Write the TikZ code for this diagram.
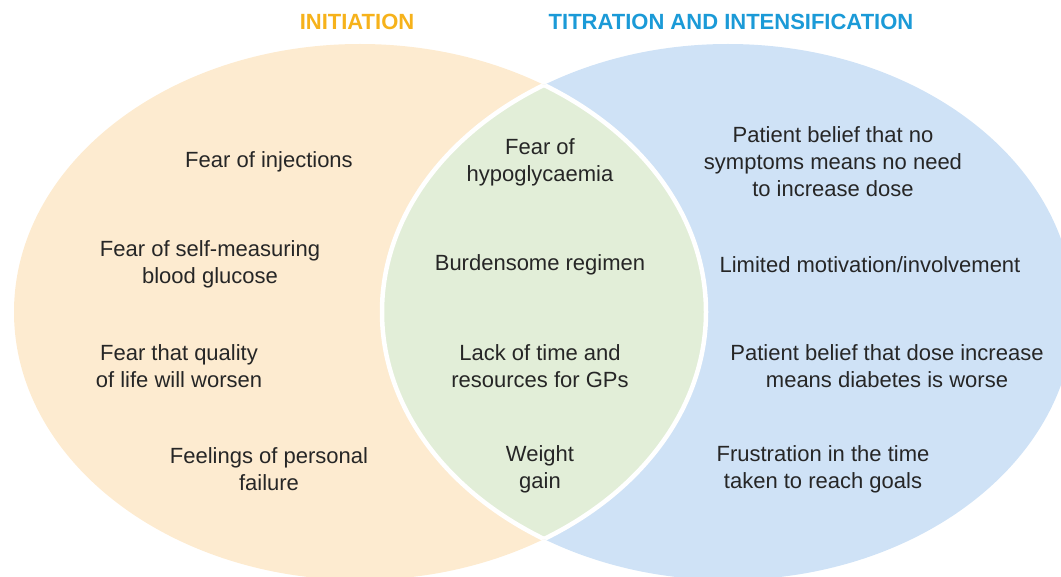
\documentclass[tikz,border=0pt]{standalone}
\usepackage{fontspec}
\setmainfont{Liberation Sans}
\definecolor{orfill}{HTML}{FDEBD0}
\definecolor{blfill}{HTML}{CFE2F6}
\definecolor{grfill}{HTML}{E2EED8}
\definecolor{ortitle}{HTML}{F6B21B}
\definecolor{bltitle}{HTML}{1B9AD7}
\definecolor{textgray}{HTML}{262626}
\begin{document}
\begin{tikzpicture}[x=1pt,y=-1pt,
  txt/.style={align=center, text=textgray, font=\fontsize{22}{27}\selectfont, inner sep=0pt},
  ttl/.style={font=\bfseries\fontsize{22}{26}\selectfont, inner sep=0pt},
  sep/.style={draw=white, line width=4.5pt}]
\useasboundingbox (0,0) rectangle (1061,577);
\clip (0,0) rectangle (1061,577);
% circles
\fill[orfill] (360,312) ellipse [x radius=346pt, y radius=268pt];
\fill[blfill] (728,312) ellipse [x radius=346pt, y radius=268pt];
\begin{scope}
  \clip (360,312) ellipse [x radius=346pt, y radius=268pt];
  \fill[grfill] (728,312) ellipse [x radius=346pt, y radius=268pt];
  \draw[sep] (728,312) ellipse [x radius=346pt, y radius=268pt];
\end{scope}
\begin{scope}
  \clip (728,312) ellipse [x radius=346pt, y radius=268pt];
  \draw[sep] (360,312) ellipse [x radius=346pt, y radius=268pt];
\end{scope}
% titles
\node[ttl, text=ortitle] (tinit) at (357,22) {INITIATION};
\node[ttl, text=bltitle] (ttitr) at (731,22) {TITRATION AND INTENSIFICATION};
% left
\node[txt] (l1) at (269,162) {Fear of injections};
\node[txt] (l2) at (210,264.5) {Fear of self-measuring\\blood glucose};
\node[txt] (l3) at (179,366.5) {Fear that quality\\of life will worsen};
\node[txt] (l4) at (269,469) {Feelings of personal\\failure};
% middle
\node[txt] (m1) at (540,162) {Fear of\\hypoglycaemia};
\node[txt] (m2) at (540,265) {Burdensome regimen};
\node[txt] (m3) at (540,366.5) {Lack of time and\\resources for GPs};
\node[txt] (m4) at (540,469) {Weight\\gain};
% right
\node[txt] (r1) at (833,162) {Patient belief that no\\symptoms means no need\\to increase dose};
\node[txt] (r2) at (870,265) {Limited motivation/involvement};
\node[txt] (r3) at (887,366.5) {Patient belief that dose increase\\means diabetes is worse};
\node[txt] (r4) at (823,469) {Frustration in the time\\taken to reach goals};
\end{tikzpicture}
\end{document}
